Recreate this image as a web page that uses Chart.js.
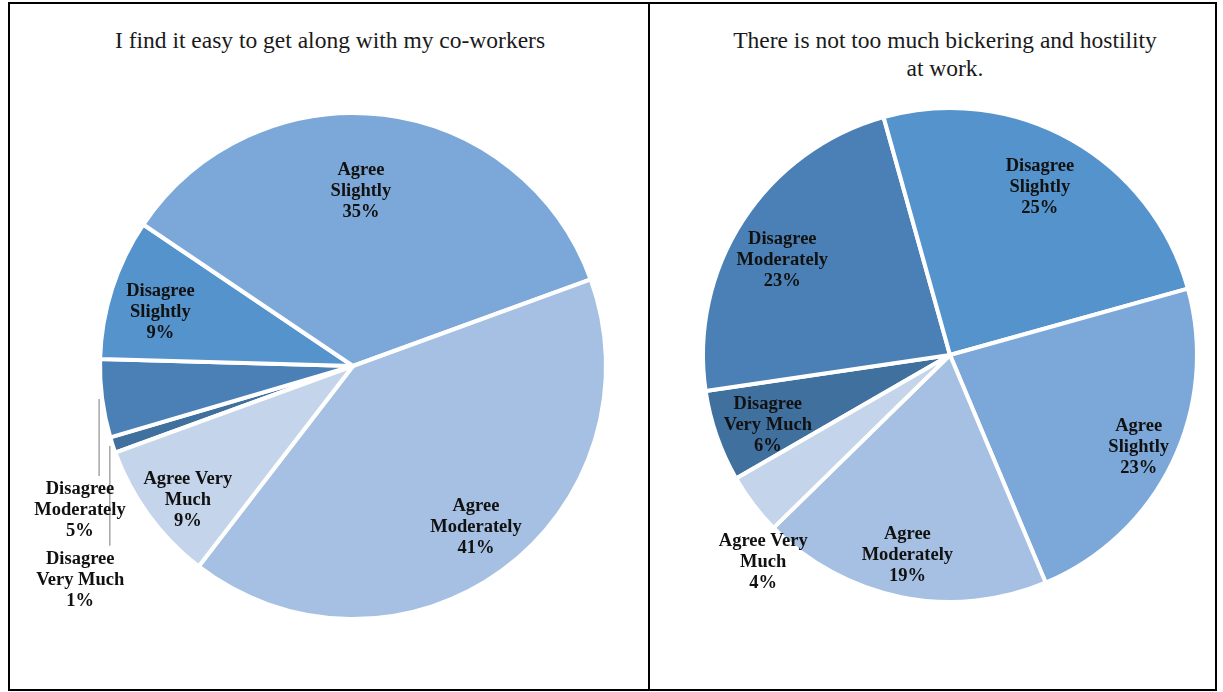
<!DOCTYPE html>
<html>
<head>
<meta charset="utf-8">
<script src="https://cdn.jsdelivr.net/npm/chart.js@4/dist/chart.umd.min.js"></script>
<style>
  html, body { margin: 0; padding: 0; background: #fff; }
  #page { position: relative; width: 1223px; height: 692px; }
  .cell { position: absolute; border: 2px solid #000; box-sizing: border-box; }
  .title {
    position: absolute; text-align: center; color: #1a1a1a;
    font-family: "Liberation Serif", "Times New Roman", serif;
    font-size: 23.5px; line-height: 28px;
  }
  canvas { position: absolute; }
</style>
</head>
<body>
<div id="page">
  <div class="cell" style="left:8px; top:2px; width:642px; height:689px;"></div>
  <div class="cell" style="left:648px; top:2px; width:569px; height:689px;"></div>
  <div class="title" style="left:10px; top:26px; width:640px;">I find it easy to get along with my co-workers</div>
  <div class="title" style="left:690px; top:26px; width:510px;">There is not too much bickering and hostility<br>at work.</div>
  <div style="position:absolute; left:10px; top:4px; width:636px; height:684px;"><canvas id="pieLeft"></canvas></div>
  <div style="position:absolute; left:650px; top:4px; width:564px; height:684px;"><canvas id="pieRight"></canvas></div>
</div>
<script>
// categories, clockwise from the start angle
const categories = [
  "Disagree Very Much",
  "Disagree Moderately",
  "Disagree Slightly",
  "Agree Slightly",
  "Agree Moderately",
  "Agree Very Much"
];
// percent of responses
const easyToGetAlong = [1, 5, 9, 35, 41, 9];
const noBickering = [6, 23, 25, 23, 19, 4];

const sliceColors = ["#40709D", "#4A80B6", "#5593CC", "#7CA8D9", "#A5C0E3", "#C4D4EA"];

// how each category name is broken over lines
const labelLines = {
  "Disagree Very Much": ["Disagree", "Very Much"],
  "Disagree Moderately": ["Disagree", "Moderately"],
  "Disagree Slightly": ["Disagree", "Slightly"],
  "Agree Slightly": ["Agree", "Slightly"],
  "Agree Moderately": ["Agree", "Moderately"],
  "Agree Very Much": ["Agree Very", "Much"]
};

// label placement: r = fraction of radius, angle = degrees (clockwise from east), leader = draw line
const leftLabelLayout = [
  { r: 1.37, angle: 141.9, leader: true },
  { r: 1.22, angle: 152.2, leader: true },
  { r: 0.79, angle: 195.5 },
  { r: 0.69, angle: 272.6 },
  { r: 0.80, angle: 52.6 },
  { r: 0.84, angle: 141 }
];
const rightLabelLayout = [
  { r: 0.79, angle: 159 },
  { r: 0.78, angle: 209.5 },
  { r: 0.77, angle: 298.2 },
  { r: 0.85, angle: 26 },
  { r: 0.83, angle: 102 },
  { r: 1.13, angle: 132 }
];

const LINE_H = 21;

const sliceLabels = {
  id: "sliceLabels",
  afterDatasetsDraw(chart, args, opts) {
    const ctx = chart.ctx;
    const meta = chart.getDatasetMeta(0);
    const values = chart.data.datasets[0].data;
    ctx.save();
    ctx.font = "bold 18.5px 'Liberation Serif', 'Times New Roman', serif";
    ctx.textAlign = "center";
    ctx.textBaseline = "middle";
    meta.data.forEach((arc, i) => {
      const { x, y, outerRadius, startAngle, endAngle } = arc.getProps(["x", "y", "outerRadius", "startAngle", "endAngle"], true);
      const lay = opts.layout[i];
      const a = lay.angle * Math.PI / 180;
      const lx = x + Math.cos(a) * outerRadius * lay.r;
      const ly = y + Math.sin(a) * outerRadius * lay.r;
      const lines = labelLines[chart.data.labels[i]].concat([values[i] + "%"]);
      const top = ly - (lines.length - 1) * LINE_H / 2;
      if (lay.leader) {
        const mid = (startAngle + endAngle) / 2;
        const ex = x + Math.cos(mid) * (outerRadius + 3);
        const ey = y + Math.sin(mid) * (outerRadius + 3);
        ctx.strokeStyle = "#A6A6A6";
        ctx.lineWidth = 1.5;
        ctx.beginPath();
        ctx.moveTo(ex, ey);
        ctx.lineTo(ex, top - 13);
        ctx.stroke();
      }
      ctx.fillStyle = "#111111";
      lines.forEach((t, k) => ctx.fillText(t, lx, top + k * LINE_H));
    });
    ctx.restore();
  }
};

function makePie(id, values, rotation, padding, layout) {
  new Chart(document.getElementById(id), {
    type: "pie",
    data: {
      labels: categories,
      datasets: [{
        data: values,
        backgroundColor: sliceColors,
        borderColor: "#ffffff",
        borderWidth: 4
      }]
    },
    options: {
      responsive: true,
      maintainAspectRatio: false,
      animation: false,
      rotation: rotation,
      layout: { padding: padding },
      plugins: {
        legend: { display: false },
        tooltip: { enabled: false },
        sliceLabels: { layout: layout }
      }
    },
    plugins: [sliceLabels]
  });
}

makePie("pieLeft", easyToGetAlong, 250, { left: 88, right: 38, top: 107, bottom: 67 }, leftLabelLayout);
makePie("pieRight", noBickering, 240, { left: 51, right: 15, top: 102, bottom: 84 }, rightLabelLayout);
</script>
</body>
</html>
